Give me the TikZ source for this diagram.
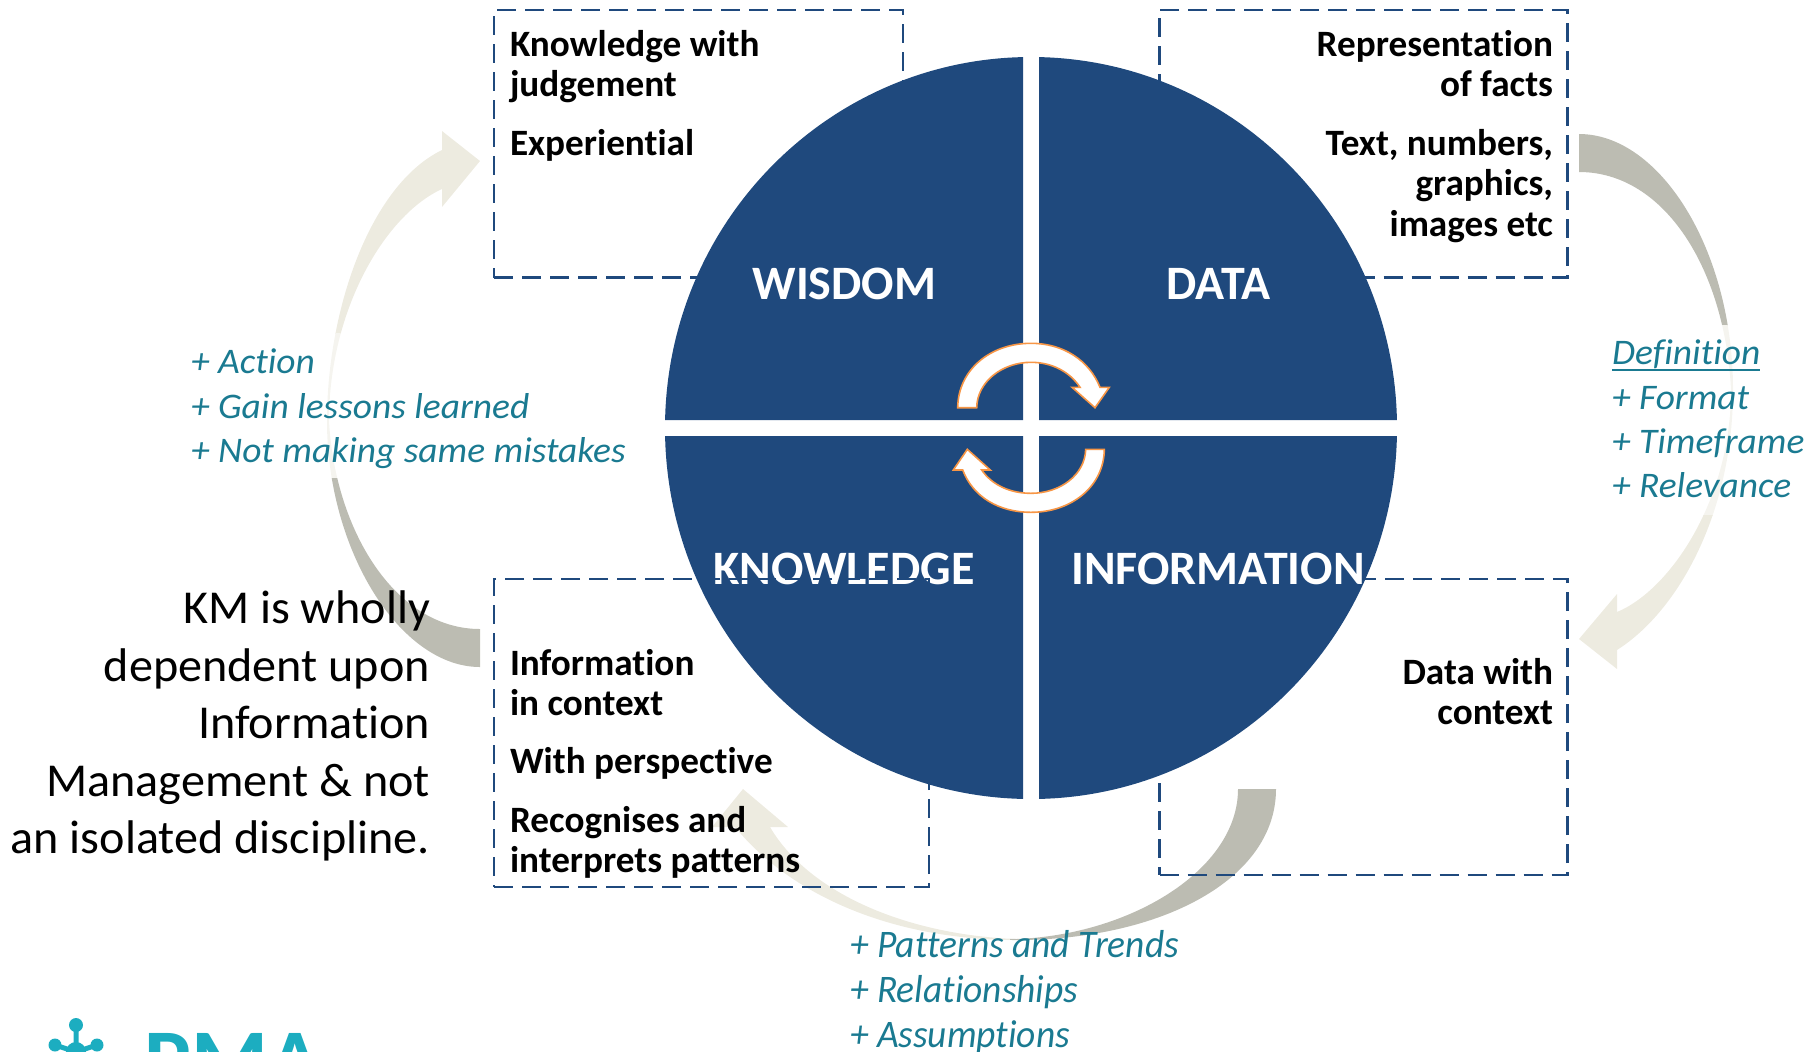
\documentclass[tikz,border=0pt]{standalone}
\usepackage{fontspec}
\setmainfont{Carlito}[Ligatures=NoCommon]
\newfontfamily\sidefont[FakeStretch=1.04,Ligatures=NoCommon]{Carlito}
\newfontfamily\botfont[FakeStretch=0.96,Ligatures=NoCommon]{Carlito}
\newfontfamily\kmfont[FakeStretch=1.02,Ligatures=NoCommon]{Carlito}
\definecolor{navy}{HTML}{1F497D}
\definecolor{teal}{HTML}{1A7A91}
\definecolor{darkarc}{HTML}{BCBCB2}
\definecolor{lightarc}{HTML}{EDEBE0}
\definecolor{palearc}{HTML}{F5F4EF}
\definecolor{orangeline}{HTML}{F79646}
\definecolor{logoteal}{HTML}{1CADC0}
\newcommand{\fl}{\rule{0pt}{10pt}}
\newcommand{\ulword}[1]{\setbox0\hbox{#1}\rlap{\rule[-2.9pt]{\wd0}{0.8pt}}\box0}
\tikzset{
  x=0.5pt,y=-0.5pt,
  dashbox/.style={draw=navy,line width=1.25pt,dash pattern=on 9.5pt off 4.5pt,anchor=north west,inner sep=0pt,outer sep=0pt},
  blacktxt/.style={inner sep=0pt,outer sep=0pt,font=\fontsize{18.6}{20.1}\selectfont\bfseries},
  secttxt/.style={inner sep=0pt,outer sep=0pt,text=white,anchor=base,font=\fontsize{24}{28}\selectfont\bfseries},
  sidetxt/.style={inner sep=0pt,outer sep=0pt,anchor=north west,align=left,text=teal,font=\sidefont\fontsize{18}{22.2}\selectfont\itshape},
  bottxt/.style={inner sep=0pt,outer sep=0pt,anchor=north west,align=left,text=teal,font=\botfont\fontsize{19.5}{22.6}\selectfont\itshape},
  cycle/.style={fill=white,draw=orangeline,line width=0.8pt,line join=miter},
}
\begin{document}
\begin{tikzpicture}
\useasboundingbox (0,0) rectangle (1818,1051);
% curved arrows
\def\rightarc{(1579,134) .. controls (1660,134) and (1733,250) .. (1733,390) .. controls (1733,510) and (1680,610) .. (1617,650) -- (1617,669) -- (1579,639) -- (1617,594) -- (1617,612) .. controls (1670,590) and (1731,500) .. (1731,390) .. controls (1725,270) and (1665,172) .. (1579,172) -- cycle}
\begin{scope}\clip (1500,100) rectangle (1800,325); \fill[darkarc] \rightarc; \end{scope}
\begin{scope}\clip (1500,325) rectangle (1800,515); \fill[palearc] \rightarc; \end{scope}
\begin{scope}\clip (1500,515) rectangle (1800,700); \fill[lightarc] \rightarc; \end{scope}
\def\leftarc{(480,667) .. controls (400,667) and (327,550) .. (327,421) .. controls (327,310) and (370,185) .. (442,150) -- (442,131) -- (480,161) -- (442,207) -- (442,189) .. controls (385,215) and (329,310) .. (329,421) .. controls (335,530) and (395,629) .. (480,629) -- cycle}
\begin{scope}\clip (300,100) rectangle (500,333); \fill[lightarc] \leftarc; \end{scope}
\begin{scope}\clip (300,333) rectangle (500,478); \fill[palearc] \leftarc; \end{scope}
\begin{scope}\clip (300,478) rectangle (500,700); \fill[darkarc] \leftarc; \end{scope}
\def\botarc{(1276,789) .. controls (1276,880) and (1160,940) .. (1016,940) .. controls (900,940) and (795,900) .. (735,827) -- (712,827) -- (743,789) -- (788,827) -- (770,827) .. controls (810,895) and (910,935) .. (1016,939) .. controls (1130,935) and (1238,870) .. (1238,789) -- cycle}
\begin{scope}\clip (680,770) rectangle (1010,960); \fill[lightarc] \botarc; \end{scope}
\begin{scope}\clip (1010,770) rectangle (1300,960); \fill[darkarc] \botarc; \end{scope}
% wheel
\begin{scope}
  \clip (600,0) rectangle (1023,420) (1039,0) rectangle (1450,420) (600,436) rectangle (1023,850) (1039,436) rectangle (1450,850);
  \fill[navy] (1031,428) ellipse [x radius=366,y radius=371];
\end{scope}
\node[secttxt] (knowledge) at (844,584) {KNOWLEDGE};
% boxes
\node[dashbox,minimum width=204.5pt,minimum height=133.8pt] (wisdombox) at (494,10) {};
\node[dashbox,minimum width=204pt,minimum height=133.8pt] (databox) at (1159.5,10) {};
\node[dashbox,minimum width=217.5pt,minimum height=154pt] (knowledgebox) at (494,579) {};
\node[dashbox,minimum width=204pt,minimum height=148pt] (informationbox) at (1159.5,579) {};
\node[secttxt] (wisdom) at (844.5,299) {WISDOM};
\node[secttxt] (data) at (1218.5,299) {DATA};
\node[secttxt] (information) at (1218,584) {INFORMATION};
% cycle arrows
\draw[cycle] (957.7,407.7) .. controls (958,370) and (990,343.3) .. (1031,343.3) .. controls (1063,343.3) and (1089,360) .. (1100,387.3) -- (1109.3,387.3) -- (1095,407.7) -- (1072,387.3) -- (1080,387.3) .. controls (1070,372) and (1052,362.3) .. (1031,362.3) .. controls (1002,362.3) and (977,382) .. (976.7,407.7) -- cycle;
\draw[cycle] (1104.3,449.3) .. controls (1104,486) and (1072,512.3) .. (1031,512.3) .. controls (999,512.3) and (973,497) .. (962.7,470) -- (953.3,470) -- (967.3,449.3) -- (990.3,470) -- (981.7,470) .. controls (992,485) and (1010,493.3) .. (1031,493.3) .. controls (1060,493.3) and (1085,475) .. (1085.7,449.3) -- cycle;
% box text
\node[blacktxt,anchor=north west,align=left] (wisdomtext) at (510,30.3) {\fl Knowledge with\\judgement\\[9.4pt]Experiential};
\node[blacktxt,anchor=north east,align=right] (datatext) at (1553,30.3) {\fl Representation\\of facts\\[9.4pt]Text, numbers,\\graphics,\\images etc};
\node[blacktxt,anchor=north west,align=left] (knowledgetext) at (510,649) {\fl Information\\in context\\[9.2pt]With perspective\\[9.2pt]Recognises and\\interprets patterns};
\node[blacktxt,anchor=north east,align=right] (infotext) at (1553,658.3) {\fl Data with\\context};
% teal text
\node[sidetxt] (lefttext) at (191,349) {\fl + Action\\+ Gain lessons learned\\+ Not making same mistakes};
\node[sidetxt] (righttext) at (1612,340) {\fl \ulword{Definition}\\+ Format\\+ Timeframe\\+ Relevance};
\node[bottxt] (bottext) at (850,930) {\fl + Patterns and Trends\\+ Relationships\\+ Assumptions};
% KM text
\node[inner sep=0pt,outer sep=0pt,anchor=north east,align=right,font=\kmfont\fontsize{23.6}{28.75}\selectfont] (kmtext) at (430,591) {\fl KM is wholly\\dependent upon\\Information\\Management \& not\\an isolated discipline.};
% logo
\begin{scope}
  \clip (0,0) rectangle (1818,1051);
  \fill[logoteal] (76,1025) circle [radius=7] (55,1045) circle [radius=6.5] (97,1045) circle [radius=6.5] (76,1052) circle [radius=10];
  \draw[logoteal,line width=2.5pt] (76,1025) -- (76,1052) (55,1045) -- (76,1052) -- (97,1045);
  \node[inner sep=0pt,anchor=base west,text=logoteal,font=\fontsize{44}{44}\selectfont\bfseries] (logotext) at (144,1090) {PMA};
\end{scope}
\end{tikzpicture}
\end{document}
